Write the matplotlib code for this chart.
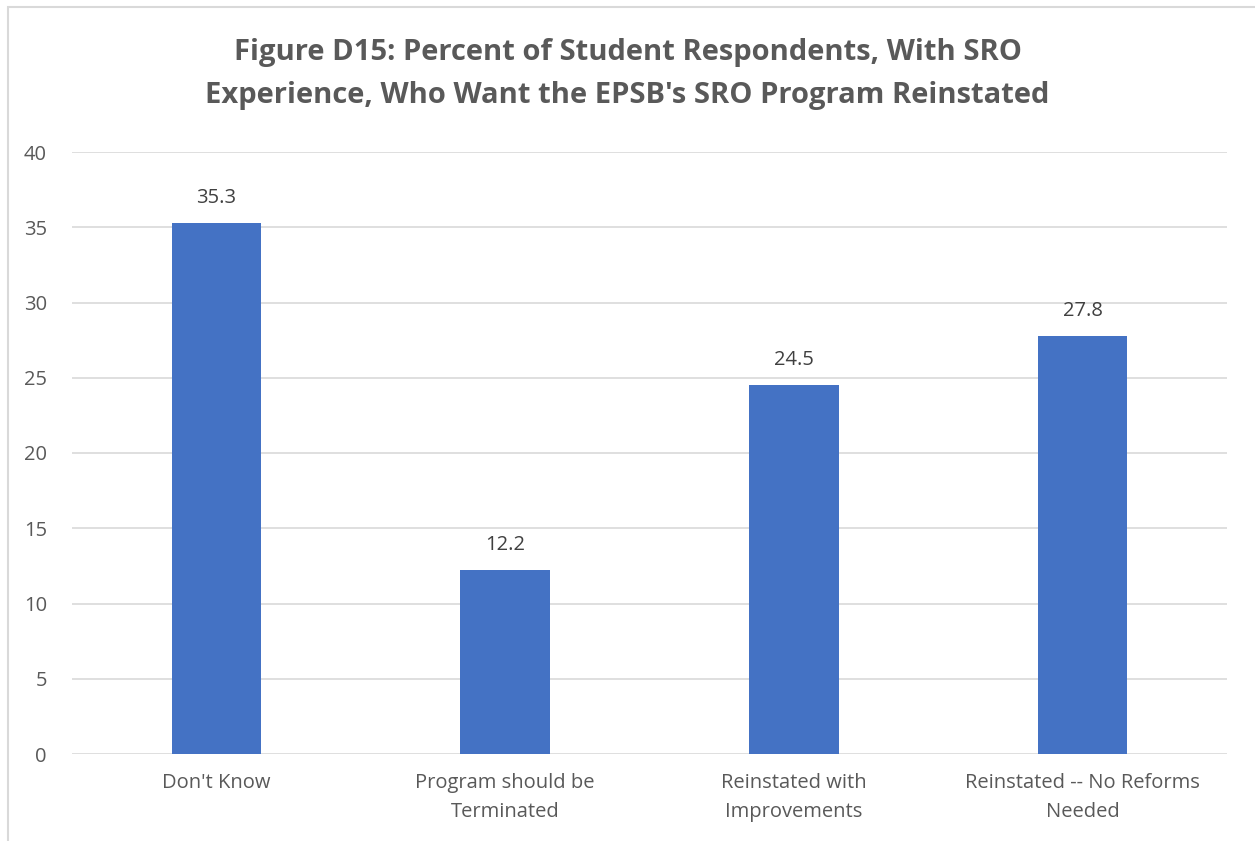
import matplotlib.pyplot as plt
from matplotlib.patches import Rectangle

# Data
categories = ["Don't Know", "Program should be\nTerminated",
              "Reinstated with\nImprovements", "Reinstated -- No Reforms\nNeeded"]
values = [35.3, 12.2, 24.5, 27.8]
yticks = [0, 5, 10, 15, 20, 25, 30, 35, 40]

plt.rcParams['font.family'] = ['Open Sans', 'DejaVu Sans']
grey = '#595959'

fig = plt.figure(figsize=(12.55, 8.41), dpi=100)
# outer chart frame (right and bottom edges run off the picture)
fig.patches.append(Rectangle((8 / 1255, -0.2), 1.2, 1.2 - 7 / 841, transform=fig.transFigure,
                             fill=False, edgecolor='#D9D9D9', linewidth=1.5))
ax = fig.add_axes([72 / 1255, 1 - 754 / 841, 1155 / 1255, 602 / 841])

x = list(range(len(categories)))
ax.bar(x, values, width=0.31, color='#4472C4', zorder=3)
for xi, v in zip(x, values):
    ax.annotate(f'{v:.1f}', (xi, v), xytext=(0, 18), textcoords='offset points',
                ha='center', va='center', fontsize=14.5, color='#404040')

ax.set_xlim(-0.5, 3.5)
ax.set_ylim(0, 40)
ax.set_yticks(yticks)
ax.set_yticklabels([str(t) for t in yticks], fontsize=14.5, color=grey)
ax.set_xticks(x)
ax.set_xticklabels(categories, fontsize=14.5, color=grey, linespacing=1.6)
ax.tick_params(axis='both', length=0)
ax.tick_params(axis='y', pad=18)
ax.tick_params(axis='x', pad=14)
ax.grid(axis='y', color='#D9D9D9', linewidth=1.2, zorder=0)
for s in ax.spines.values():
    s.set_visible(False)

fig.text(0.5, 1 - 74 / 841, "Figure D15: Percent of Student Respondents, With SRO\n"
         "Experience, Who Want the EPSB's SRO Program Reinstated",
         ha='center', va='center', fontsize=21, fontweight='bold', color=grey,
         linespacing=1.6)

fig.savefig('out.png', dpi=100)
